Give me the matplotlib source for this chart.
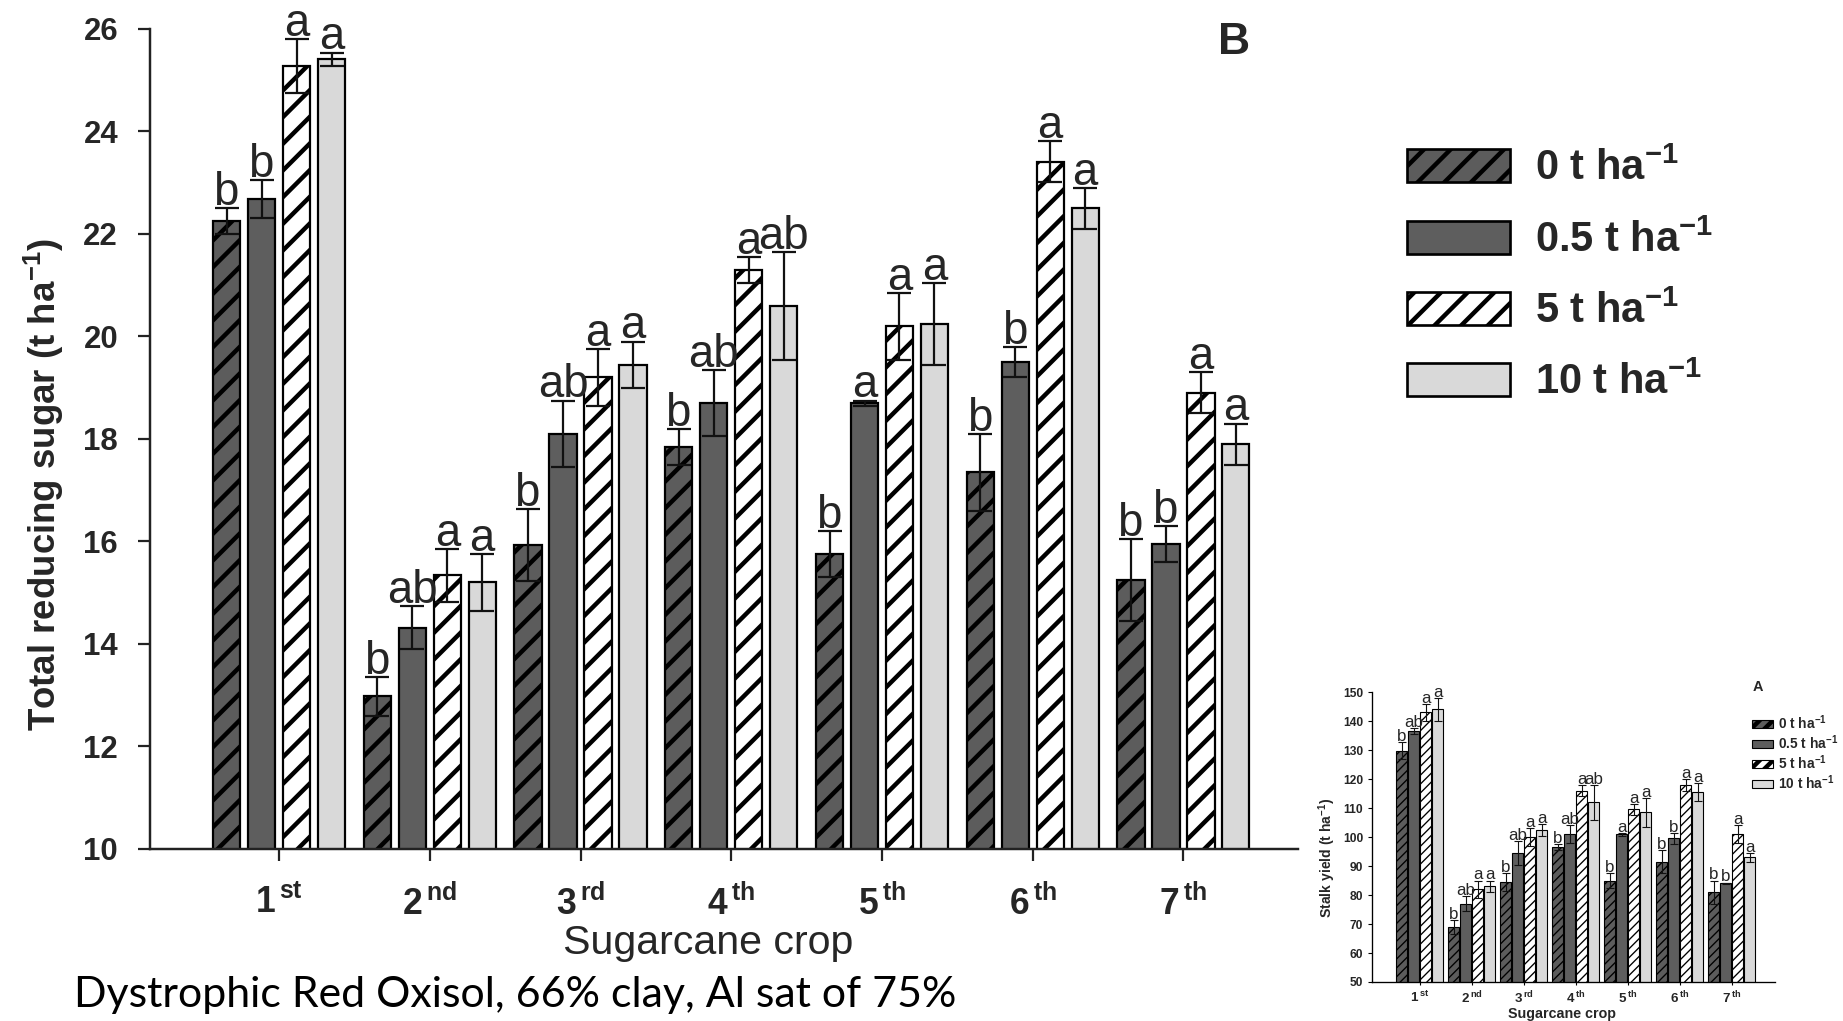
import matplotlib
matplotlib.use("Agg")
import matplotlib.pyplot as plt
from matplotlib.patches import Patch
import numpy as np

# ---- data -------------------------------------------------------------
crops = ["1$^{\\,st}$", "2$^{\\,nd}$", "3$^{\\,rd}$", "4$^{\\,th}$",
         "5$^{\\,th}$", "6$^{\\,th}$", "7$^{\\,th}$"]
doses = ["0 t ha$^{-1}$", "0.5 t ha$^{-1}$", "5 t ha$^{-1}$", "10 t ha$^{-1}$"]

# panel B: total reducing sugar (t ha-1)
trs_0 = [22.25, 12.98, 15.93, 17.85, 15.75, 17.35, 15.25]
trs_05 = [22.68, 14.32, 18.10, 18.70, 18.70, 19.50, 15.95]
trs_5 = [25.28, 15.34, 19.20, 21.30, 20.20, 23.41, 18.90]
trs_10 = [25.41, 15.20, 19.45, 20.60, 20.25, 22.50, 17.90]
trs_err_0 = [0.25, 0.38, 0.71, 0.35, 0.45, 0.75, 0.80]
trs_err_05 = [0.37, 0.42, 0.65, 0.65, 0.05, 0.30, 0.35]
trs_err_5 = [0.52, 0.52, 0.55, 0.25, 0.65, 0.40, 0.40]
trs_err_10 = [0.13, 0.55, 0.45, 1.05, 0.80, 0.40, 0.40]
trs_letters = [
    ["b", "b", "b", "b", "b", "b", "b"],
    ["b", "ab", "ab", "ab", "a", "b", "b"],
    ["a", "a", "a", "a", "a", "a", "a"],
    ["a", "a", "a", "ab", "a", "a", "a"],
]

# panel A: stalk yield (t ha-1)
sy_0 = [129.8, 69.0, 84.5, 96.5, 85.0, 91.5, 81.0]
sy_05 = [136.5, 77.0, 94.5, 101.0, 101.0, 99.5, 84.0]
sy_5 = [143.0, 82.0, 100.0, 116.0, 109.5, 118.0, 101.0]
sy_10 = [144.0, 83.0, 102.5, 112.0, 108.5, 115.5, 93.0]
sy_err_0 = [3.0, 2.5, 3.0, 1.0, 2.5, 4.0, 4.0]
sy_err_05 = [1.0, 2.5, 4.0, 3.0, 0.5, 2.0, 0.3]
sy_err_5 = [3.0, 3.0, 3.0, 2.0, 2.0, 2.0, 3.0]
sy_err_10 = [4.0, 2.0, 2.0, 6.0, 5.0, 3.0, 1.5]
sy_letters = [
    ["b", "b", "b", "b", "b", "b", "b"],
    ["ab", "ab", "ab", "ab", "a", "b", "b"],
    ["a", "a", "a", "a", "a", "a", "a"],
    ["a", "a", "a", "ab", "a", "a", "a"],
]

caption = "Dystrophic Red Oxisol, 66% clay, Al sat of 75%"

# ---- style ------------------------------------------------------------
plt.rcParams["font.family"] = ["Liberation Sans", "DejaVu Sans"]
plt.rcParams["mathtext.default"] = "regular"
plt.rcParams["hatch.linewidth"] = 2.0

INK = "#262626"
styles = [
    dict(facecolor="#5c5c5c", hatch="//"),
    dict(facecolor="#5e5e5e", hatch=None),
    dict(facecolor="white", hatch="//"),
    dict(facecolor="#d9d9d9", hatch=None),
]

DPI = 160
fig = plt.figure(figsize=(1843 / DPI, 1021 / DPI), dpi=DPI)


def draw_panel(ax, series, errors, letters, width, pitch, lw, hatch_mult,
               hatch_lw, capsize, elw, letter_size, letter_pad):
    x = np.arange(len(crops))
    offs = (np.arange(4) - 1.5) * pitch
    for k in range(4):
        st = styles[k]
        hatch = st["hatch"] * hatch_mult if st["hatch"] else None
        bars = ax.bar(x + offs[k], series[k], width, bottom=0,
                      facecolor=st["facecolor"], edgecolor="black",
                      hatch=hatch, linewidth=lw, zorder=2)
        for b in bars:
            if hasattr(b, "set_hatch_linewidth"):
                b.set_hatch_linewidth(hatch_lw)
        ax.errorbar(x + offs[k], series[k], yerr=errors[k], fmt="none",
                    ecolor="#111111", elinewidth=elw, capsize=capsize,
                    capthick=elw, zorder=3)
        for i in range(len(x)):
            ax.annotate(letters[k][i], (x[i] + offs[k], series[k][i] + errors[k][i]),
                        xytext=(0, letter_pad), textcoords="offset points",
                        ha="center", va="baseline", fontsize=letter_size,
                        color=INK, annotation_clip=False)
    for s in ("top", "right"):
        ax.spines[s].set_visible(False)


# ---- panel B (main) ---------------------------------------------------
ax = fig.add_axes([0.0814, 0.1685, 0.6229, 0.8031])
draw_panel(ax, [trs_0, trs_05, trs_5, trs_10],
           [trs_err_0, trs_err_05, trs_err_5, trs_err_10], trs_letters,
           width=0.18, pitch=0.232, lw=1.0, hatch_mult=1, hatch_lw=2.0,
           capsize=5.4, elw=1.0, letter_size=20.5, letter_pad=1.4)
ax.set_xlim(-0.856, 6.76)
ax.set_ylim(10, 26)
yt = list(range(10, 27, 2))
ax.set_yticks(yt, labels=[str(v) for v in yt], fontweight="bold", fontsize=14, color=INK)
ax.set_xticks(np.arange(7), labels=crops, fontweight="bold", fontsize=16, color=INK)
ax.tick_params(axis="y", length=5.4, width=1.0, pad=9, color="#222222")
ax.tick_params(axis="x", length=5.4, width=1.0, pad=11, color="#222222")
for s in ("left", "bottom"):
    ax.spines[s].set_linewidth(1.1)
    ax.spines[s].set_color("#222222")

fig.text(44 / 1843, 1 - 485 / 1021, "Total reducing sugar (t ha$^{-1}$)", rotation=90,
         ha="center", va="center", fontsize=16.5, fontweight="bold", color=INK)
fig.text(708 / 1843, 1 - 943 / 1021, "Sugarcane crop", ha="center", va="center",
         fontsize=18.5, color=INK)
fig.text(1234 / 1843, 1 - 42 / 1021, "B", ha="center", va="center",
         fontsize=20, fontweight="bold", color=INK)

handles = [Patch(facecolor=st["facecolor"], edgecolor="black", hatch=st["hatch"],
                 linewidth=1.2) for st in styles]
ax.legend(handles, doses, loc="upper left", bbox_to_anchor=(1407 / 1843, 1 - 149 / 1021),
          bbox_transform=fig.transFigure, frameon=False,
          prop={"weight": "bold", "size": 18.75}, labelcolor=INK,
          handlelength=2.47, handleheight=0.84, handletextpad=0.6,
          labelspacing=0.74, borderpad=0, borderaxespad=0)

# ---- panel A (inset) --------------------------------------------------
ax2 = fig.add_axes([0.7444, 0.0382, 0.2187, 0.2840])
draw_panel(ax2, [sy_0, sy_05, sy_5, sy_10],
           [sy_err_0, sy_err_05, sy_err_5, sy_err_10], sy_letters,
           width=0.21, pitch=0.23, lw=0.5, hatch_mult=3, hatch_lw=0.6,
           capsize=1.8, elw=0.5, letter_size=7.6, letter_pad=0.5)
ax2.set_xlim(-0.92, 6.83)
ax2.set_ylim(50, 150)
yt2 = list(range(50, 151, 10))
ax2.set_yticks(yt2, labels=[str(v) for v in yt2], fontweight="bold", fontsize=5.4, color=INK)
ax2.set_xticks(np.arange(7), labels=crops, fontweight="bold", fontsize=6, color=INK)
ax2.tick_params(axis="y", length=2, width=0.5, pad=2)
ax2.tick_params(axis="x", length=1.5, width=0.5, pad=2)
for s in ("left", "bottom"):
    ax2.spines[s].set_linewidth(0.6)

fig.text(1327 / 1843, 1 - 858 / 1021, "Stalk yield (t ha$^{-1}$)", rotation=90,
         ha="center", va="center", fontsize=6.3, fontweight="bold", color=INK)
fig.text(1562 / 1843, 1 - 1014 / 1021, "Sugarcane crop", ha="center", va="center",
         fontsize=6.4, fontweight="bold", color=INK)
fig.text(1753 / 1843, 1 - 687 / 1021, "A", ha="left", va="center",
         fontsize=6.5, fontweight="bold", color=INK)

handles2 = [Patch(facecolor=st["facecolor"], edgecolor="black",
                  hatch=st["hatch"] * 2 if st["hatch"] else None, linewidth=0.5)
            for st in styles]
ax2.legend(handles2, doses, loc="upper left", bbox_to_anchor=(1752 / 1843, 1 - 713 / 1021),
           bbox_transform=fig.transFigure, frameon=False,
           prop={"weight": "bold", "size": 6.2}, labelcolor=INK,
           handlelength=1.53, handleheight=0.5, handletextpad=0.37,
           labelspacing=0.1, borderpad=0, borderaxespad=0)

# ---- caption ----------------------------------------------------------
fig.text(74 / 1843, 1 - 1007 / 1021, caption, ha="left", va="baseline",
         fontsize=19.3, family=["Lato", "DejaVu Sans"], color="black")

fig.savefig("out.png", dpi=DPI)
